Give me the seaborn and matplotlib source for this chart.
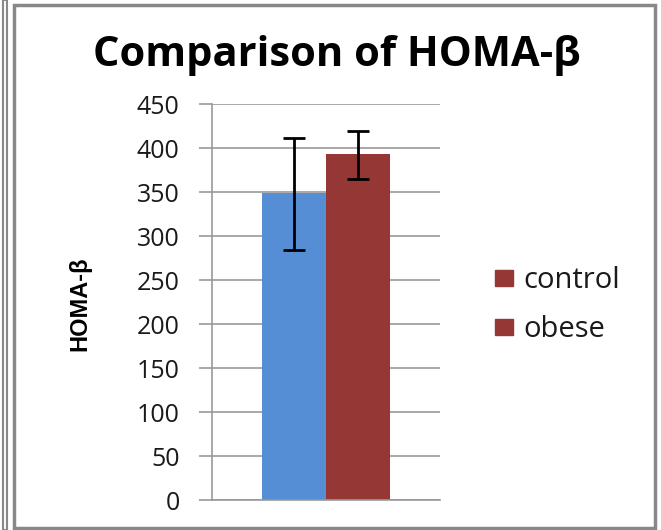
""" Comparison of HOMA-beta between control and obese groups. """

import numpy as np
import pandas as pd
import seaborn as sns
import matplotlib.pyplot as plt
from matplotlib.patches import Rectangle

# Data
groups = ["control", "obese"]
homa_beta = [349.5, 393.0]
err_low = [284.5, 365.0]
err_high = [412.0, 419.0]
yticks = [0, 50, 100, 150, 200, 250, 300, 350, 400, 450]

colors = ["#558ED5", "#953735"]


def main() -> None:
    sns.set_theme(style="white")
    plt.rcParams["font.family"] = ["Open Sans", "DejaVu Sans"]

    df = pd.DataFrame({"x": [""] * len(groups), "group": groups, "value": homa_beta})

    fig = plt.figure(figsize=(6.61, 5.30), dpi=100)
    ax = fig.add_axes([0.321, 0.0566, 0.345, 0.7468])

    sns.barplot(df, x="x", y="value", hue="group", palette=colors,
                width=0.56, errorbar=None, legend=False, saturation=1,
                linewidth=0, ax=ax)

    # error bars centred on each bar
    for patch, v, lo, hi in zip(ax.patches, homa_beta, err_low, err_high):
        cx = patch.get_x() + patch.get_width() / 2
        ax.errorbar(cx, v, yerr=[[v - lo], [hi - v]], color="black",
                    elinewidth=2, capsize=8, capthick=2)

    ax.set_ylim(0, 450)
    ax.set_xlim(-0.5, 0.5)
    ax.set_yticks(yticks)
    ax.tick_params(axis="y", labelsize=18, length=9.5, width=1.2,
                   color="#999999", direction="out", left=True, pad=14,
                   labelcolor="#1a1a1a")
    ax.tick_params(axis="x", bottom=False, labelbottom=False)
    ax.yaxis.grid(True, color="#A8A8A8", linewidth=1.4)
    ax.set_axisbelow(True)
    for side in ["top", "right"]:
        ax.spines[side].set_visible(False)
    for side in ["left", "bottom"]:
        ax.spines[side].set_color("#999999")
        ax.spines[side].set_linewidth(1.2)
    ax.set_xlabel("")
    ax.set_ylabel("")

    # y label, title
    fig.text(0.121, 0.426, "HOMA-β", rotation=90, ha="center", va="center",
             fontsize=17, fontweight="bold", color="black",
             family=["Liberation Sans Narrow", "Liberation Sans", "DejaVu Sans"])
    fig.text(0.51, 0.895, "Comparison of HOMA-β", ha="center", va="center",
             fontsize=30, fontweight="bold", color="black")

    # legend (both markers shown in the dark red, as in the original)
    handles = [Rectangle((0, 0), 1, 1, color=colors[1]) for _ in groups]
    fig.legend(handles, groups, loc="center left", bbox_to_anchor=(0.749, 0.424),
               frameon=False, fontsize=21, handlelength=0.62, handleheight=0.45,
               handletextpad=0.34, labelspacing=0.69, borderpad=0,
               borderaxespad=0, labelcolor="#1a1a1a")

    # chart frame
    fig.patches.append(Rectangle((0.021, 0.004), 0.970, 0.987, transform=fig.transFigure,
                                 fill=False, edgecolor="#888888", linewidth=2.5))
    fig.patches.append(Rectangle((0.004, 0.0), 0.006, 1.0, transform=fig.transFigure,
                                 fill=False, edgecolor="#888888", linewidth=1.5))

    fig.savefig("out.png", dpi=100)


if __name__ == "__main__":
    main()
